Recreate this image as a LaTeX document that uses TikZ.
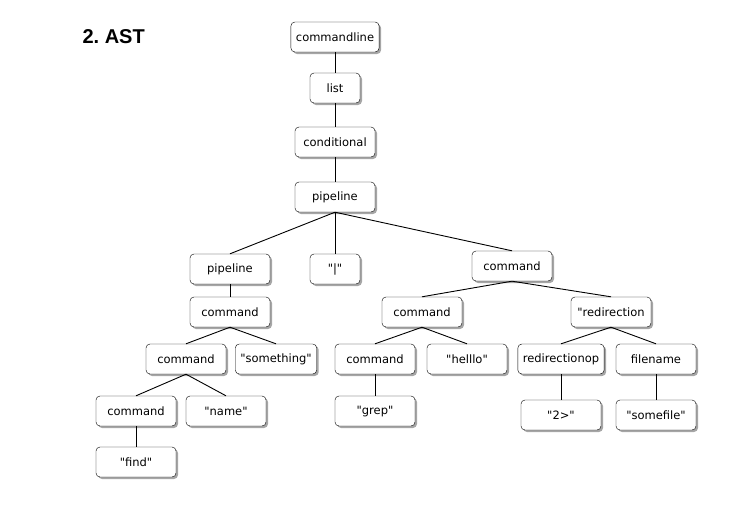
\documentclass[tikz,border=0pt]{standalone}
\usepackage{fontspec}
\setmainfont{DejaVu Sans}[Ligatures=TeXOff]
\newfontfamily\titlefont{Liberation Sans}
\usetikzlibrary{shadows}
\tikzset{
    box/.style={draw,fill=white,rounded corners=4pt,minimum width=80pt,minimum height=30pt,
        inner xsep=5pt,font=\fontsize{11.5}{12}\selectfont,
        drop shadow={shadow xshift=2pt,shadow yshift=-2pt,fill=black!35,opacity=1}},
    edge/.style={line width=0.9pt}
}
\begin{document}
\begin{tikzpicture}[x=1pt,y=-1pt]
            \useasboundingbox (0,0) rectangle (740,512);
            \node[anchor=west,font=\titlefont\bfseries\fontsize{20}{22}\selectfont] (title) at (79,37) {2.\ AST};
            \node[box] (cmdline) at (335,37) {commandline};
            \node[box,minimum width=50pt] (list) at (335,88) {list};
            \node[box] (cond) at (335,142) {conditional};
            \node[box] (pipe) at (335,197) {pipeline};
            \node[box] (pipeL) at (230,269) {pipeline};
            \node[box,minimum width=50pt] (bar) at (335,269) {"|"};
            \node[box] (cmdR) at (512,266) {command};
            \node[box] (cmdA) at (230,312) {command};
            \node[box] (cmdB) at (186,359) {command};
            \node[box] (something) at (276,359) {"something"};
            \node[box] (cmdC) at (136,411) {command};
            \node[box] (name) at (226,411) {"name"};
            \node[box] (find) at (136,462) {"find"};
            \node[box] (cmdM) at (422,312) {command};
            \node[box] (redir) at (611,312) {"redirection};
            \node[box] (cmdG) at (375,359) {command};
            \node[box] (hello) at (467,359) {"helllo"};
            \node[box] (redirop) at (561,359) {redirectionop};
            \node[box] (fname) at (656,359) {filename};
            \node[box] (grep) at (375,411) {"grep"};
            \node[box] (two) at (561,415) {"2>"};
            \node[box] (somefile) at (656,415) {"somefile"};
            \draw[edge] (cmdline.south) -- (list.north);
            \draw[edge] (list.south) -- (cond.north);
            \draw[edge] (cond.south) -- (pipe.north);
            \draw[edge] (pipe.south) -- (pipeL.north);
            \draw[edge] (pipe.south) -- (bar.north);
            \draw[edge] (pipe.south) -- (cmdR.north);
            \draw[edge] (pipeL.south) -- (cmdA.north);
            \draw[edge] (cmdA.south) -- (cmdB.north);
            \draw[edge] (cmdA.south) -- (something.north);
            \draw[edge] (cmdB.south) -- (cmdC.north);
            \draw[edge] (cmdB.south) -- (name.north);
            \draw[edge] (cmdC.south) -- (find.north);
            \draw[edge] (cmdR.south) -- (cmdM.north);
            \draw[edge] (cmdR.south) -- (redir.north);
            \draw[edge] (cmdM.south) -- (cmdG.north);
            \draw[edge] (cmdM.south) -- (hello.north);
            \draw[edge] (cmdG.south) -- (grep.north);
            \draw[edge] (redir.south) -- (redirop.north);
            \draw[edge] (redir.south) -- (fname.north);
            \draw[edge] (redirop.south) -- (two.north);
            \draw[edge] (fname.south) -- (somefile.north);
        \end{tikzpicture}
\end{document}
